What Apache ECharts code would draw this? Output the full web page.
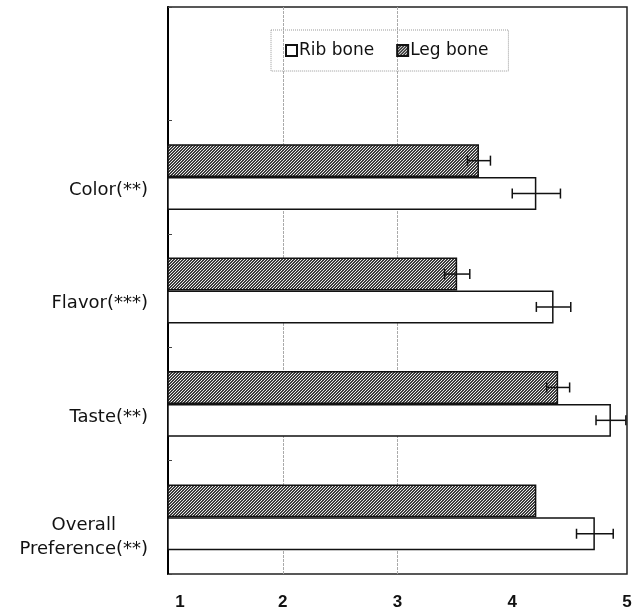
<!DOCTYPE html>
<html>
<head>
<meta charset="utf-8">
<style>html,body{margin:0;padding:0;background:#fff;}#chart{width:640px;height:613px;}</style>
<script src="https://cdn.jsdelivr.net/npm/echarts@6/dist/echarts.min.js"></script>
</head>
<body>
<div id="chart"></div>
<script>
// ---- data ----
const categories = ['Color(**)', 'Flavor(***)', 'Taste(**)', 'Overall\nPreference(**)'];
const ribValues = [4.21, 4.36, 4.86, 4.72];
const ribErrors = [0.21, 0.15, 0.13, 0.16];
const legValues = [3.71, 3.52, 4.40, 4.21];
const legErrors = [0.10, 0.11, 0.10, null];
const xTicks = [1, 2, 3, 4, 5];
const gridValues = [2, 3];

// hatch pattern for Leg bone
function makeHatch() {
  const c = document.createElement('canvas');
  c.width = 3; c.height = 3;
  const ctx = c.getContext('2d');
  const img = ctx.createImageData(3, 3);
  for (let y = 0; y < 3; y++) for (let x = 0; x < 3; x++) {
    const i = (y * 3 + x) * 4;
    const dark = (x + y) % 3 !== 2;
    const v = dark ? 60 : 235;
    img.data[i] = v; img.data[i+1] = v; img.data[i+2] = v; img.data[i+3] = 255;
  }
  ctx.putImageData(img, 0, 0);
  return c;
}
const hatch = { image: makeHatch(), repeat: 'repeat' };

const axisCats = [''].concat(categories);
const GAP = 0.42;

function errData(vals, errs, side) {
  const out = [];
  vals.forEach((v, i) => { if (errs[i] != null) out.push([v, i + 1, errs[i], side]); });
  return out;
}

const chart = echarts.init(document.getElementById('chart'));
chart.setOption({
  animation: false,
  backgroundColor: '#fff',
  grid: { left: 168, right: 13, top: 7, bottom: 39, show: true, borderColor: '#222', borderWidth: 1.5, containLabel: false },
  legend: {
    data: ['Rib bone', 'Leg bone'],
    left: 271, top: 30,
    padding: [12, 20, 12, 14],
    itemWidth: 11, itemHeight: 11, itemGap: 22,
    borderColor: '#999', borderWidth: 1, borderType: 'dotted',
    textStyle: { fontFamily: 'DejaVu Sans', fontSize: 17, color: '#111', padding: [0, 0, 0, -3] },
    icon: 'rect'
  },
  xAxis: {
    type: 'value', min: xTicks[0], max: xTicks[xTicks.length - 1], interval: 1,
    axisLine: { show: false }, axisTick: { show: false },
    axisLabel: {
      fontFamily: 'Liberation Sans', fontWeight: 'bold', fontSize: 17, color: '#111', margin: 20,
      formatter: v => v === xTicks[0] ? '{f|' + v + '}' : '{n|' + v + '}',
      rich: {
        f: { fontFamily: 'Liberation Sans', fontWeight: 'bold', fontSize: 17, color: '#111', padding: [0, 0, 0, 24] },
        n: { fontFamily: 'Liberation Sans', fontWeight: 'bold', fontSize: 17, color: '#111' }
      }
    },
    splitLine: { show: true, lineStyle: { color: xTicks.map(t => gridValues.indexOf(t) >= 0 ? '#aaa' : 'rgba(0,0,0,0)'), width: 1, type: [3, 1] } }
  },
  yAxis: {
    type: 'category', data: axisCats, inverse: true,
    axisLine: { show: true, lineStyle: { color: '#000', width: 2 } },
    axisTick: { show: true, inside: true, length: 4, lineStyle: { color: '#444', width: 1 } },
    axisLabel: {
      margin: 20, color: '#111', fontFamily: 'DejaVu Sans', fontSize: 18,
      formatter: v => {
        if (v.indexOf('\n') >= 0) {
          const p = v.split('\n');
          return '{sp| }\n{m|' + p[0] + '}\n{m|' + p[1] + '}';
        }
        return '{s|' + v + '}';
      },
      rich: {
        s: { fontFamily: 'DejaVu Sans', fontSize: 18, padding: [26, 0, 0, 0], color: '#111' },
        sp: { fontSize: 10, lineHeight: 40 },
        m: { fontFamily: 'DejaVu Sans', fontSize: 18, lineHeight: 24, color: '#111', align: 'center' }
      }
    },
    splitLine: { show: false }
  },
  series: [
    {
      name: 'Leg bone', type: 'bar', barGap: 0, barCategoryGap: (GAP * 100) + '%',
      data: [null].concat(legValues),
      itemStyle: { color: hatch, borderColor: '#111', borderWidth: 1.5 }
    },
    {
      name: 'Rib bone', type: 'bar', barGap: 0, barCategoryGap: (GAP * 100) + '%',
      data: [null].concat(ribValues),
      itemStyle: { color: '#fff', borderColor: '#111', borderWidth: 1.5 }
    },
    {
      type: 'custom', z: 10, silent: true,
      data: errData(legValues, legErrors, -1).concat(errData(ribValues, ribErrors, 1)),
      encode: { x: 0, y: 1 },
      renderItem: function (params, api) {
        const v = api.value(0), ci = api.value(1), e = api.value(2), side = api.value(3);
        const c = api.coord([v, ci]);
        const band = api.size([0, 1])[1];
        const bw = band * (1 - GAP) / 2;
        const y = c[1] + side * bw / 2;
        const l = api.coord([v - e, ci])[0], r = api.coord([v + e, ci])[0];
        const h = 5;
        const st = { stroke: '#111', lineWidth: 1.5 };
        return { type: 'group', children: [
          { type: 'line', shape: { x1: l, y1: y, x2: r, y2: y }, style: st },
          { type: 'line', shape: { x1: l, y1: y - h, x2: l, y2: y + h }, style: st },
          { type: 'line', shape: { x1: r, y1: y - h, x2: r, y2: y + h }, style: st }
        ] };
      }
    }
  ]
});
</script>
</body>
</html>
